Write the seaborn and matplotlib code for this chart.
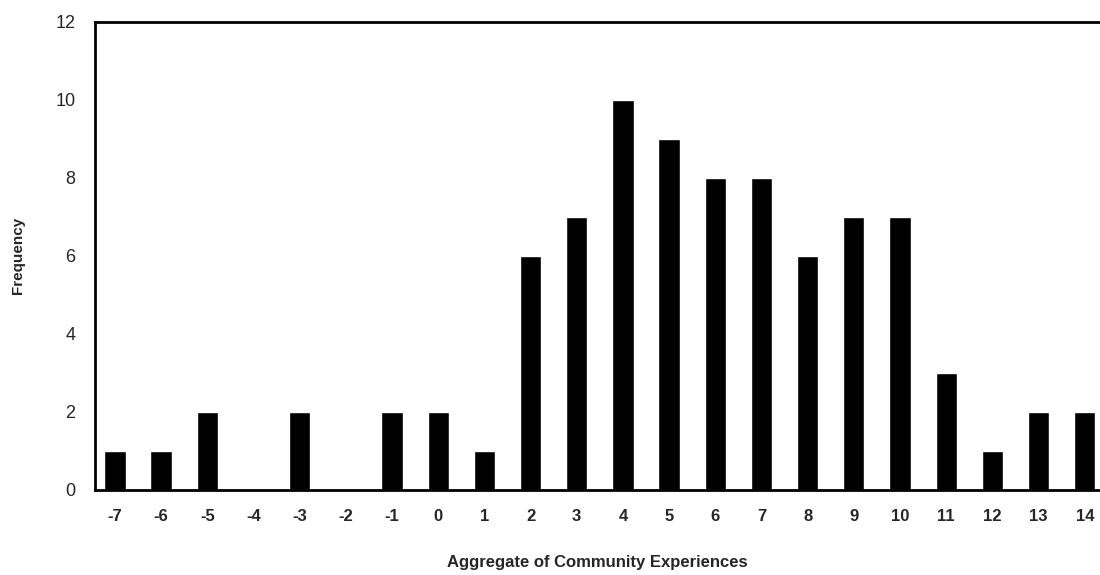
import matplotlib
matplotlib.use('Agg')
import matplotlib.pyplot as plt
import seaborn as sns
import pandas as pd

# 집계 점수별 빈도
scores = ['-7', '-6', '-5', '-4', '-3', '-2', '-1', '0', '1', '2', '3',
          '4', '5', '6', '7', '8', '9', '10', '11', '12', '13', '14']
frequency = [1, 1, 2, 0, 2, 0, 2, 2, 1, 6, 7, 10, 9, 8, 8, 6, 7, 7, 3, 1, 2, 2]
y_ticks = [0, 2, 4, 6, 8, 10, 12]

df = pd.DataFrame({'score': scores, 'freq': frequency})

sns.set_style('white')
plt.rcParams['font.family'] = ['Liberation Sans', 'DejaVu Sans']

fig = plt.figure(figsize=(11, 5.75), dpi=100)
ax = fig.add_axes([0.0864, 0.148, 0.9136, 0.814])

sns.barplot(data=df, x='score', y='freq', color='black', width=0.46,
            saturation=1, ax=ax, order=scores)

ax.set_xlim(-0.43, 21.33)
ax.set_ylim(0, 12)
ax.set_yticks(y_ticks)

for side in ['left', 'bottom', 'top']:
    ax.spines[side].set_visible(True)
    ax.spines[side].set_color('black')
    ax.spines[side].set_linewidth(2)
ax.spines['right'].set_visible(False)

ax.tick_params(axis='y', direction='in', length=4, width=1, pad=14, labelsize=13)
ax.tick_params(axis='x', length=0, pad=14, labelsize=12)
for lbl in ax.get_xticklabels():
    lbl.set_fontweight('bold')

ax.set_xlabel('Aggregate of Community Experiences', fontsize=12, fontweight='bold', labelpad=22)
ax.set_ylabel('Frequency', fontsize=11, fontweight='bold')
ax.yaxis.set_label_coords(-0.07, 0.5)

fig.savefig('out.png', dpi=100)
